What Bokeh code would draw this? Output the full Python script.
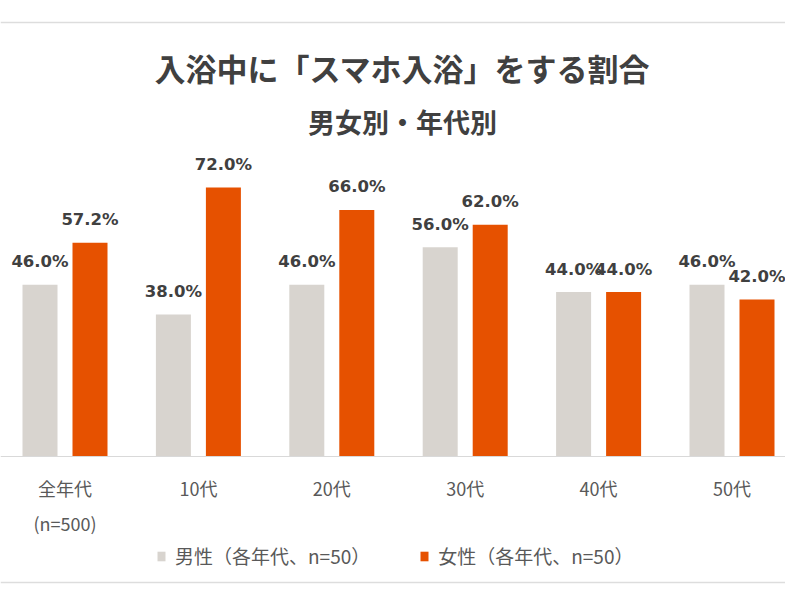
from bokeh.plotting import figure
from bokeh.models import (Range1d, LinearAxis, FixedTicker, Span, Label,
                          Legend, LegendItem, ColumnDataSource)
from bokeh.core.properties import value
from bokeh.embed import file_html
from bokeh.resources import INLINE

# ---- data ----
categories = ["全年代", "10代", "20代", "30代", "40代", "50代"]
sub_labels = ["(n=500)", "", "", "", "", ""]
male = [46.0, 38.0, 46.0, 56.0, 44.0, 46.0]
female = [57.2, 72.0, 66.0, 62.0, 44.0, 42.0]
series_names = ["男性（各年代、n=50）", "女性（各年代、n=50）"]
title_text = "入浴中に「スマホ入浴」をする割合"
subtitle_text = "男女別・年代別"

# ---- layout constants ----
W, H = 785, 585
CAT_PX = 133.4          # pixels per category
FIRST_CENTER = 64.5     # px of first category centre
BASE_Y = 456            # px of baseline from top
PPP = 3.736             # pixels per percent
OFF = 25 / CAT_PX
BW = 35 / CAT_PX

GRAY = "#D8D4CF"
ORANGE = "#E65100"
TXT = "#404040"
CJK = "Noto Sans CJK JP"

x_start = -FIRST_CENTER / CAT_PX
x_end = (W - FIRST_CENTER) / CAT_PX
y_start = -(H - BASE_Y) / PPP
y_end = BASE_Y / PPP

p = figure(width=W, height=H, output_backend="svg", toolbar_location=None,
           x_range=Range1d(x_start, x_end), y_range=Range1d(y_start, y_end),
           x_axis_type=None, y_axis_type=None,
           min_border_left=0, min_border_right=0, min_border_top=0, min_border_bottom=0)
p.outline_line_color = None
p.xgrid.visible = False
p.ygrid.visible = False
p.background_fill_color = "white"

idx = list(range(len(categories)))
src = ColumnDataSource(dict(
    xm=[i - OFF for i in idx], xf=[i + OFF for i in idx],
    male=male, female=female,
    ml=[f"{v:.1f}%" for v in male], fl=[f"{v:.1f}%" for v in female],
    xc=idx, sub=sub_labels, zero=[0] * len(idx)))

rm = p.vbar(x="xm", top="male", width=BW, bottom=0, source=src,
            fill_color=GRAY, line_color=None)
rf = p.vbar(x="xf", top="female", width=BW, bottom=0, source=src,
            fill_color=ORANGE, line_color=None)

for xcol, ycol, tcol in (("xm", "male", "ml"), ("xf", "female", "fl")):
    p.text(x=xcol, y=ycol, text=tcol, source=src, y_offset=-23,
           text_align="center", text_baseline="middle",
           text_font=value("DejaVu Sans"), text_font_style="bold",
           text_font_size="16.5px", text_color=TXT)

# x axis at the baseline
ax = LinearAxis(fixed_location=0)
ax.ticker = FixedTicker(ticks=idx)
ax.major_label_overrides = {i: c for i, c in zip(idx, categories)}
ax.axis_line_color = "#D9D9D9"
ax.major_tick_line_color = None
ax.minor_tick_line_color = None
ax.major_label_standoff = 12
ax.major_label_text_font = CJK
ax.major_label_text_font_size = "18px"
ax.major_label_text_color = "#595959"
p.add_layout(ax, "below")

# second line of the first label
p.text(x="xc", y="zero", text="sub", source=src, y_offset=66,
       text_align="center", text_baseline="middle",
       text_font=value(CJK), text_font_size="18px", text_color="#595959")

# decorative frame lines
p.add_layout(Span(location=(BASE_Y - 22) / PPP, dimension="width",
                  line_color="#DDDDDD", line_width=1.5))
p.add_layout(Span(location=-(582 - BASE_Y) / PPP, dimension="width",
                  line_color="#DDDDDD", line_width=1.5))

# titles
p.add_layout(Label(x=402, y=H - 67, x_units="screen", y_units="screen",
                   text=title_text, text_align="center", text_baseline="middle",
                   text_font=CJK, text_font_style="bold", text_font_size="31px",
                   text_color=TXT))
p.add_layout(Label(x=402, y=H - 121, x_units="screen", y_units="screen",
                   text=subtitle_text, text_align="center", text_baseline="middle",
                   text_font=CJK, text_font_style="bold", text_font_size="27px",
                   text_color=TXT))

legend = Legend(items=[LegendItem(label=series_names[0], renderers=[rm]),
                       LegendItem(label=series_names[1], renderers=[rf])],
                location=(156, 16), orientation="horizontal",
                glyph_width=10, glyph_height=12, label_standoff=9, spacing=49,
                padding=0, margin=0, border_line_color=None,
                background_fill_alpha=0,
                label_text_font=CJK, label_text_font_size="19px",
                label_text_color="#595959")
p.add_layout(legend)

open("out.html", "w").write(file_html(p, INLINE))
